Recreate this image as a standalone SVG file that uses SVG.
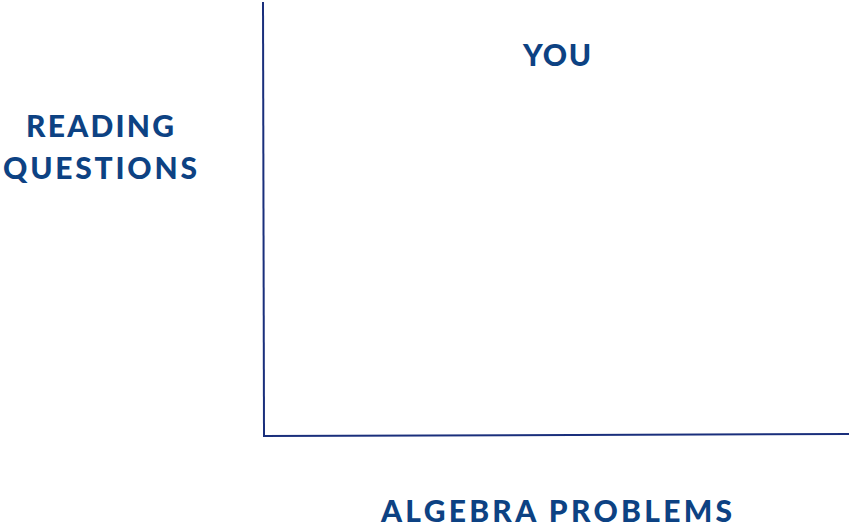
<svg xmlns="http://www.w3.org/2000/svg" width="850" height="527" viewBox="0 0 850 527">
<style>
.lbl{font-family:Lato,"Open Sans","Liberation Sans",sans-serif;font-weight:900;font-size:30px;fill:#0d4283;letter-spacing:3px}
.ax{stroke:#1a2f7c;stroke-width:2;fill:none}
</style>
<rect width="850" height="527" fill="#ffffff"/>
<g id="axes">
<line class="ax" x1="263" y1="2" x2="264" y2="437"/>
<line class="ax" x1="263" y1="436" x2="849" y2="434"/>
</g>
<g id="y-label">
<text class="lbl" x="26" y="137" textLength="151" lengthAdjust="spacing">READING</text>
<text class="lbl" x="3" y="179" textLength="197" lengthAdjust="spacing">QUESTIONS</text>
</g>
<g id="you">
<text class="lbl" x="523" y="66" textLength="71" lengthAdjust="spacing">YOU</text>
</g>
<g id="x-label">
<text class="lbl" x="381" y="522" textLength="354" lengthAdjust="spacing">ALGEBRA PROBLEMS</text>
</g>
</svg>
